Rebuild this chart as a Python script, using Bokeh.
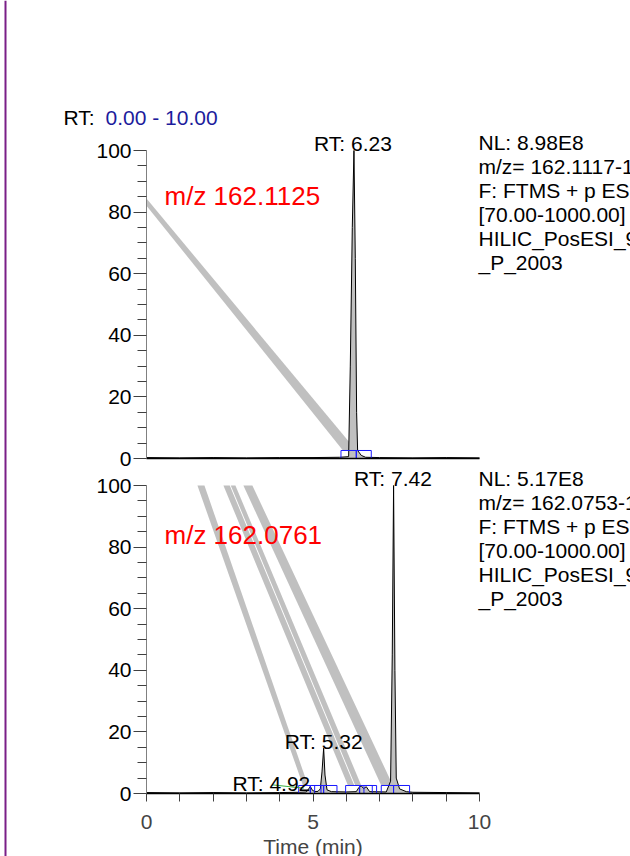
from bokeh.plotting import figure
from bokeh.models import Range1d, FixedTicker, Label, Span, LinearAxis
from bokeh.embed import file_html
from bokeh.resources import INLINE

FONT = "Liberation Sans"
TXT = "21px"

# ---------------- data ----------------
x_major = [0, 5, 10]
x_minor = [1, 2, 3, 4, 6, 7, 8, 9]
y_major = [0, 20, 40, 60, 80, 100]
y_minor = [5, 10, 15, 25, 30, 35, 45, 50, 55, 65, 70, 75, 85, 90, 95]
rt_range_prefix = "RT: "
rt_range_text = "0.00 - 10.00"
x_title = "Time (min)"

# upper trace
top_title = "m/z 162.1125"
top_time = [0.00, 1.00, 2.00, 3.00, 4.00, 5.00, 5.80, 6.07, 6.12, 6.18, 6.23,
            6.27, 6.31, 6.34, 6.45, 6.58, 7.00, 8.00, 9.00, 10.00]
top_int = [0.3, 0.2, 0.3, 0.2, 0.3, 0.3, 0.4, 0.6, 30, 75, 100,
           65, 15, 2.6, 1.0, 0.4, 0.3, 0.2, 0.3, 0.2]
top_peak_labels = ["RT: 6.23"]
top_label_x = [6.20]
top_label_y = [102.3]
top_box_left = [5.84, 6.30]
top_box_right = [6.30, 6.75]
top_band_x = [[0.00, 6.30, 5.90, 0.00]]
top_band_y = [[84.4, 2.6, 2.6, 82.1]]
top_info = ["NL: 8.98E8", "m/z= 162.1117-1", "F: FTMS + p ESI",
            "[70.00-1000.00]", "HILIC_PosESI_9", "_P_2003"]

# lower trace
bot_title = "m/z 162.0761"
bot_time = [0.00, 1.00, 2.00, 3.00, 4.00, 4.60, 4.80, 4.87, 4.92, 4.97, 5.05,
            5.15, 5.22, 5.27, 5.32, 5.36, 5.42, 5.55, 6.00, 6.30, 6.38, 6.45,
            6.52, 6.60, 6.70, 7.20, 7.33, 7.38, 7.42, 7.46, 7.50, 7.60, 7.80,
            8.00, 9.00, 10.00]
bot_int = [0.3, 0.2, 0.3, 0.2, 0.3, 0.4, 0.5, 1.5, 2.3, 1.2, 0.6,
           0.7, 1.5, 7.0, 14.7, 6.0, 1.2, 0.6, 0.5, 0.6, 2.0, 2.5,
           1.6, 2.2, 0.6, 0.5, 4.0, 45, 100, 40, 5.0, 1.5, 0.6,
           0.4, 0.3, 0.2]
bot_peak_labels = ["RT: 4.92", "RT: 5.32", "RT: 7.42"]
bot_label_x = [3.75, 5.32, 7.40]
bot_label_y = [3.2, 17.0, 102.3]
bot_box_left = [4.57, 4.92, 5.05, 5.32, 5.98, 6.40, 6.53, 7.05, 7.42]
bot_box_right = [4.92, 5.24, 5.32, 5.72, 6.40, 6.78, 6.91, 7.42, 7.90]
bot_band_x = [[1.53, 1.74, 4.85, 4.70], [2.31, 2.50, 6.24, 6.05],
              [2.53, 2.67, 6.45, 6.27], [2.91, 3.18, 7.40, 7.05]]
bot_band_y = [[100, 100, 2.6, 2.6]] * 4
leader_x = [3.77, 4.72]
leader_y = [2.82, 1.72]
bot_info = ["NL: 5.17E8", "m/z= 162.0753-1", "F: FTMS + p ESI",
            "[70.00-1000.00]", "HILIC_PosESI_9", "_P_2003"]

BOX_H = 2.6
GRAY = "#c0c0c0"

# ---------------- layout constants (pixels) ----------------
W, H = 630, 856
X0_PX = 146          # page x of t = 0
PX_X = 33.3          # pixels per minute
PX_Y = 3.08          # pixels per percent
TOP_Y0 = 458         # page y of 0 % in the upper panel
BOT_Y0 = 793         # page y of 0 % in the lower panel

x_range = Range1d(-X0_PX / PX_X, (W - X0_PX) / PX_X)
bot_range = Range1d(-(H - BOT_Y0) / PX_Y, BOT_Y0 / PX_Y)
top_range = Range1d(-(H - TOP_Y0) / PX_Y, TOP_Y0 / PX_Y)

p = figure(width=W, height=H, x_range=x_range, y_range=bot_range,
           output_backend="svg", toolbar_location=None,
           x_axis_location=None, y_axis_location=None, min_border=0)
p.extra_y_ranges = {"top": top_range}
p.outline_line_color = None
p.background_fill_color = "white"
p.border_fill_color = "white"
p.grid.visible = False
p.xgrid.grid_line_color = None
p.ygrid.grid_line_color = None


def add_yaxis(range_name):
    ax = LinearAxis(y_range_name=range_name, fixed_location=0, bounds=(0, 100),
                    ticker=FixedTicker(ticks=y_major, minor_ticks=y_minor))
    ax.major_label_text_font = FONT
    ax.major_label_text_font_size = TXT
    ax.major_label_text_color = "black"
    ax.axis_line_color = "#808080"
    ax.major_tick_line_color = "#404040"
    ax.minor_tick_line_color = "#404040"
    ax.major_tick_out = 13
    ax.major_tick_in = 0
    ax.minor_tick_out = 9
    ax.minor_tick_in = 0
    ax.major_label_standoff = 2
    p.add_layout(ax, "left")


add_yaxis("top")
add_yaxis("default")

# baseline of the upper panel
base_top = LinearAxis(y_range_name="top", fixed_location=0, bounds=(0, 10),
                      ticker=FixedTicker(ticks=[]))
base_top.axis_line_color = "black"
base_top.axis_line_width = 1.5
base_top.major_tick_out = 0
base_top.minor_tick_out = 0
p.add_layout(base_top, "below")

# time axis of the lower panel
xa = LinearAxis(fixed_location=0, bounds=(0, 10),
                ticker=FixedTicker(ticks=x_major, minor_ticks=x_minor))
xa.major_label_text_font = FONT
xa.major_label_text_font_size = TXT
xa.axis_line_color = "black"
xa.axis_line_width = 1.5
xa.major_tick_line_color = "#404040"
xa.minor_tick_line_color = "#404040"
xa.major_tick_out = 8
xa.major_tick_in = 0
xa.minor_tick_out = 8
xa.minor_tick_in = 0
xa.major_label_standoff = 13
xa.axis_label = x_title
xa.axis_label_text_font = FONT
xa.axis_label_text_font_size = TXT
xa.axis_label_text_font_style = "normal"
xa.axis_label_standoff = 3
p.add_layout(xa, "below")


def draw_trace(rng, t, inten, band_x, band_y, box_l, box_r):
    p.patches(xs=band_x, ys=band_y, fill_color=GRAY, line_color=None, y_range_name=rng)
    p.varea(x=t, y1=[0] * len(t), y2=inten, fill_color=GRAY, y_range_name=rng)
    p.line(t, inten, line_color="black", line_width=1, y_range_name=rng)
    p.quad(left=box_l, right=box_r, bottom=[0] * len(box_l), top=[BOX_H] * len(box_l),
           fill_color=None, line_color="#1a1aff", line_width=1, y_range_name=rng)


def txt(rng, x, y, s, color="black", size=TXT, align="left"):
    p.add_layout(Label(x=x, y=y, text=s, text_font=FONT, text_font_size=size,
                       text_color=color, text_align=align, text_baseline="alphabetic",
                       y_range_name=rng))


# ---------------- upper panel ----------------
draw_trace("top", top_time, top_int, top_band_x, top_band_y, top_box_left, top_box_right)
for s, x, y in zip(top_peak_labels, top_label_x, top_label_y):
    txt("top", x, y, s, align="center")
txt("top", (164 - X0_PX) / PX_X, (TOP_Y0 - 195) / PX_Y, top_title, color="red", size="26px")
txt("top", (63 - X0_PX) / PX_X, (TOP_Y0 - 117) / PX_Y, rt_range_prefix)
txt("top", (105 - X0_PX) / PX_X, (TOP_Y0 - 117) / PX_Y, rt_range_text, color="#1c1c9c")
for k, s in enumerate(top_info):
    base = 142 + 24 * k
    txt("top", (478 - X0_PX) / PX_X, (TOP_Y0 - base) / PX_Y, s)

# ---------------- lower panel ----------------
draw_trace("default", bot_time, bot_int, bot_band_x, bot_band_y, bot_box_left, bot_box_right)
p.line(leader_x, leader_y, line_color="#3cb043", line_width=1)
for s, x, y in zip(bot_peak_labels, bot_label_x, bot_label_y):
    txt("default", x, y, s, align="center")
txt("default", (164 - X0_PX) / PX_X, (BOT_Y0 - 534) / PX_Y, bot_title, color="red", size="26px")
for k, s in enumerate(bot_info):
    base = 478 + 24 * k
    txt("default", (478 - X0_PX) / PX_X, (BOT_Y0 - base) / PX_Y, s)

# purple frame edge at the left of the page
p.add_layout(Span(location=(5 - X0_PX) / PX_X, dimension="height",
                  line_color="#7a1f87", line_width=2))

open("out.html", "w").write(file_html(p, INLINE))
